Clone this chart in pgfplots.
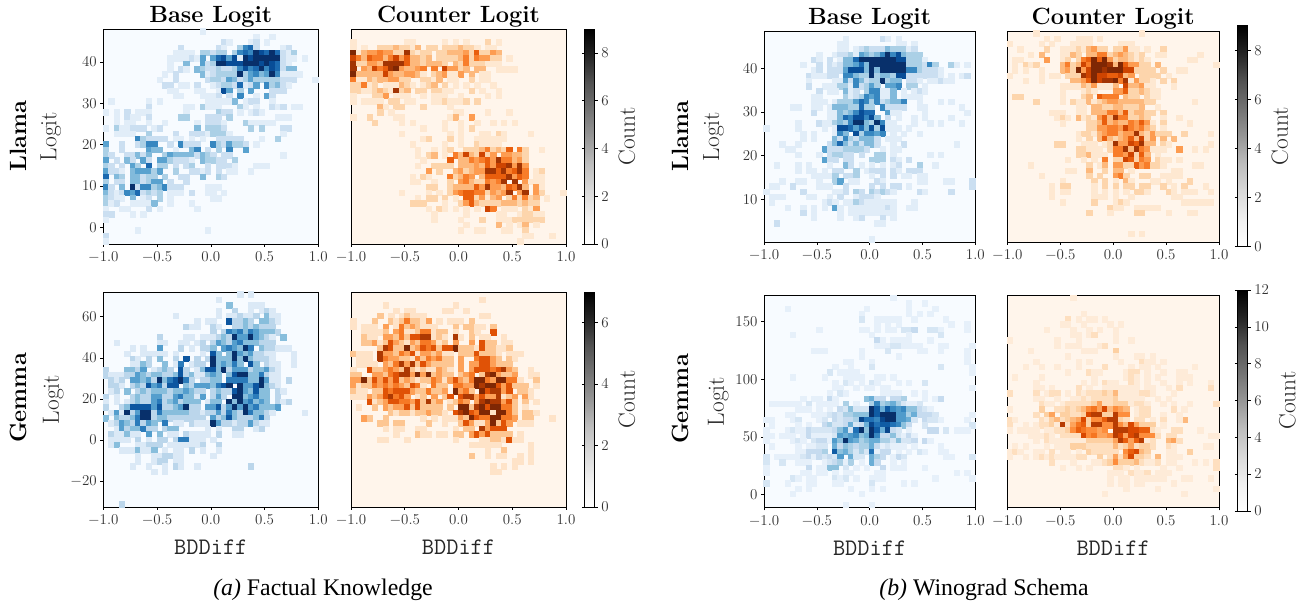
\documentclass[border=0pt]{standalone}
\usepackage{fix-cm}
\usepackage{fontspec}
\usepackage{pgfplots}
\usepackage{pgfplotstable}
\pgfplotsset{compat=1.18}
\newfontfamily\capfont{Liberation Serif}
\definecolor{bluebg}{RGB}{247,251,255}
\definecolor{orangebg}{RGB}{255,245,235}

\pgfplotsset{
  colormap={blues}{rgb255=(247,251,255) rgb255=(222,235,247) rgb255=(198,219,239) rgb255=(158,202,225) rgb255=(107,174,214) rgb255=(66,146,198) rgb255=(33,113,181) rgb255=(8,81,156) rgb255=(8,48,107)},
  colormap={oranges}{rgb255=(255,245,235) rgb255=(254,230,206) rgb255=(253,208,162) rgb255=(253,174,107) rgb255=(253,141,60) rgb255=(241,105,19) rgb255=(217,72,1) rgb255=(166,54,3) rgb255=(127,39,4)},
  colormap={greys}{rgb255=(255,255,255) rgb255=(240,240,240) rgb255=(217,217,217) rgb255=(189,189,189) rgb255=(150,150,150) rgb255=(115,115,115) rgb255=(82,82,82) rgb255=(37,37,37) rgb255=(0,0,0)},
  panel/.style={
    scale only axis, anchor=south west, axis on top,
    xmin=-1, xmax=1, xtick={-1,-0.5,0,0.5,1},
    xticklabel style={/pgf/number format/fixed, /pgf/number format/fixed zerofill, /pgf/number format/precision=1, yshift=-1.5pt},
    tick label style={font=\fontsize{15}{17}\selectfont, text=black!80},
    ylabel style={font=\fontsize{23.4}{25}\selectfont, text=black!85},
    xlabel style={font=\fontsize{23.7}{25}\selectfont\ttfamily, text=black!85, yshift=-7.5pt},
    title style={font=\fontsize{23.5}{25}\selectfont\bfseries, yshift=-8pt},
    tick align=outside, major tick length=3pt, tick style={black, line width=0.6pt},
    xtick pos=bottom, ytick pos=left, axis line style={line width=0.8pt},
    point meta=explicit, point meta min=0,
  },
  bp/.style={panel, colormap name=blues, axis background/.style={fill=bluebg}, ylabel={Logit}},
  op/.style={panel, colormap name=oranges, axis background/.style={fill=orangebg}, ytick=\empty},
  hist/.style={scatter, only marks, mark=square*, mark size=2.7pt, mark options={line width=0pt}, scatter/use mapped color={draw=mapped color, fill=mapped color}},
  cbar/.style={
    hide axis, scale only axis, anchor=south west, width=0pt, height=0pt,
    colormap name=greys, point meta min=0,
    colorbar,
    colorbar style={at={(parent axis.south west)}, anchor=south west, width=10pt, ylabel={Count},
      ytick distance=2, tick label style={font=\fontsize{15}{17}\selectfont, text=black!80},
      ylabel style={font=\fontsize{23.4}{25}\selectfont, text=black!85, yshift=-3pt},
      tick align=outside, major tick length=3pt, tick style={black, line width=0.6pt}, axis line style={line width=0.8pt}, #1},
  },
}
% cells: column, row from the top, count (40 x 40 bins)
\newcommand\bins[3]{\addplot[hist] table[x expr=-0.975+0.05*\thisrowno{0}, y expr=#2-#3*(\thisrowno{1}+0.5), meta index=2] {#1};}

\pgfplotstableread{
18 0 1
28 1 1
31 1 1
22 2 2
23 2 1
27 2 1
28 2 2
30 2 1
14 3 2
21 3 2
22 3 1
25 3 3
26 3 6
27 3 7
28 3 2
33 3 1
34 3 2
13 4 1
14 4 1
15 4 1
16 4 1
18 4 3
19 4 3
20 4 2
21 4 3
22 4 3
24 4 3
25 4 6
26 4 7
27 4 6
28 4 9
29 4 8
30 4 7
31 4 9
32 4 7
33 4 2
34 4 1
35 4 3
12 5 1
13 5 1
14 5 1
15 5 1
16 5 2
17 5 1
18 5 5
20 5 5
21 5 7
22 5 8
23 5 5
24 5 8
25 5 1
26 5 9
27 5 8
28 5 9
29 5 9
30 5 9
31 5 9
32 5 9
33 5 2
34 5 1
35 5 1
37 5 1
12 6 1
15 6 4
18 6 5
19 6 2
20 6 3
21 6 9
22 6 9
23 6 8
24 6 8
25 6 8
26 6 9
27 6 9
28 6 9
29 6 8
30 6 9
31 6 8
32 6 7
33 6 2
34 6 1
12 7 1
14 7 2
15 7 1
17 7 4
18 7 3
19 7 2
20 7 2
21 7 3
22 7 2
23 7 2
24 7 3
25 7 6
26 7 8
27 7 6
28 7 7
29 7 9
30 7 6
31 7 8
32 7 7
33 7 2
34 7 4
35 7 4
11 8 1
13 8 2
18 8 4
19 8 1
20 8 2
21 8 3
22 8 3
23 8 3
24 8 3
25 8 9
26 8 3
27 8 5
28 8 6
29 8 4
30 8 5
31 8 9
32 8 6
33 8 1
34 8 1
35 8 1
36 8 1
10 9 1
13 9 2
19 9 2
20 9 3
21 9 3
22 9 2
23 9 5
24 9 4
25 9 2
26 9 3
27 9 5
28 9 3
29 9 3
30 9 3
31 9 3
32 9 3
33 9 2
34 9 2
35 9 2
39 9 1
11 10 2
12 10 2
14 10 1
15 10 1
17 10 2
20 10 1
21 10 2
22 10 3
23 10 3
24 10 2
25 10 7
26 10 1
27 10 2
28 10 5
30 10 6
31 10 3
32 10 4
33 10 2
34 10 1
12 11 1
13 11 1
17 11 1
18 11 1
21 11 1
22 11 8
23 11 5
25 11 3
27 11 5
31 11 2
32 11 2
33 11 2
13 12 1
14 12 1
18 12 1
19 12 1
20 12 1
21 12 2
23 12 2
25 12 6
28 12 1
30 12 5
31 12 2
1 13 1
8 13 1
10 13 1
19 13 1
20 13 1
21 13 1
22 13 1
23 13 1
24 13 4
26 13 1
27 13 2
28 13 2
31 13 1
8 14 2
15 14 1
16 14 1
18 14 3
19 14 1
20 14 1
21 14 1
25 14 3
26 14 1
28 14 1
31 14 2
32 14 1
33 14 2
35 14 1
36 14 1
0 15 1
2 15 1
4 15 2
6 15 1
7 15 1
8 15 1
15 15 1
21 15 3
22 15 2
23 15 2
25 15 1
27 15 1
28 15 2
29 15 1
2 16 1
4 16 2
5 16 1
6 16 1
8 16 2
14 16 3
15 16 3
19 16 2
20 16 2
21 16 2
23 16 3
32 16 1
33 16 1
34 16 1
2 17 1
4 17 1
5 17 1
8 17 1
11 17 1
17 17 1
19 17 2
20 17 2
21 17 2
22 17 1
26 17 3
27 17 1
28 17 1
29 17 1
30 17 1
31 17 1
0 18 1
2 18 3
3 18 1
4 18 1
5 18 2
6 18 2
7 18 2
9 18 1
10 18 2
17 18 4
19 18 3
20 18 3
21 18 3
22 18 2
27 18 3
29 18 3
33 18 2
34 18 2
2 19 1
3 19 1
4 19 1
5 19 1
8 19 3
13 19 2
16 19 2
17 19 2
18 19 2
19 19 1
20 19 3
21 19 3
22 19 3
23 19 1
33 19 1
6 20 6
7 20 3
8 20 2
9 20 2
10 20 2
11 20 2
13 20 1
14 20 1
16 20 1
18 20 1
21 20 2
22 20 2
23 20 2
24 20 2
25 20 2
29 20 1
32 20 3
0 21 5
3 21 2
6 21 2
7 21 3
8 21 6
9 21 6
12 21 2
14 21 6
15 21 2
16 21 2
17 21 2
20 21 6
21 21 3
22 21 2
23 21 5
24 21 3
25 21 3
26 21 2
28 21 1
0 22 3
3 22 2
8 22 5
9 22 4
10 22 4
13 22 1
16 22 4
17 22 6
19 22 2
21 22 3
23 22 6
26 22 5
0 23 3
1 23 2
4 23 2
5 23 2
6 23 4
7 23 2
8 23 4
11 23 3
12 23 5
13 23 4
14 23 4
15 23 4
16 23 4
17 23 2
18 23 4
19 23 3
20 23 2
22 23 2
23 23 2
33 23 1
0 24 5
2 24 2
4 24 4
5 24 2
7 24 5
8 24 2
10 24 5
11 24 5
12 24 3
13 24 2
14 24 2
15 24 2
16 24 1
18 24 4
19 24 3
20 24 3
21 24 2
22 24 2
24 24 3
0 25 3
1 25 2
3 25 2
5 25 5
6 25 3
8 25 7
10 25 3
11 25 3
13 25 2
15 25 2
16 25 3
19 25 2
21 25 2
22 25 2
23 25 2
24 25 1
28 25 1
29 25 1
30 25 1
0 26 5
1 26 2
2 26 2
3 26 1
5 26 4
6 26 5
7 26 5
8 26 5
9 26 3
10 26 5
13 26 3
16 26 2
17 26 2
18 26 1
19 26 2
21 26 2
23 26 1
24 26 1
27 26 1
0 27 7
2 27 4
3 27 3
5 27 4
6 27 4
7 27 2
8 27 3
9 27 3
11 27 3
14 27 2
15 27 2
18 27 4
21 27 3
22 27 2
0 28 3
2 28 2
3 28 2
5 28 4
6 28 4
7 28 2
8 28 3
9 28 5
10 28 5
12 28 2
15 28 2
0 29 6
1 29 2
3 29 4
5 29 9
6 29 2
7 29 6
8 29 6
9 29 3
10 29 4
11 29 6
12 29 2
13 29 2
14 29 2
19 29 1
20 29 1
21 29 1
0 30 4
1 30 2
2 30 1
3 30 2
4 30 6
5 30 5
6 30 7
7 30 2
8 30 3
9 30 2
10 30 3
12 30 1
13 30 1
14 30 1
16 30 2
19 30 1
20 30 1
22 30 1
0 31 3
1 31 2
2 31 1
3 31 1
5 31 4
7 31 1
8 31 2
10 31 3
12 31 1
20 31 1
21 31 1
0 32 3
1 32 1
2 32 2
5 32 1
6 32 1
7 32 1
8 32 1
9 32 4
12 32 1
16 32 1
0 33 1
3 33 1
4 33 1
8 33 2
10 33 1
17 33 1
0 34 2
1 34 2
5 34 1
7 34 1
0 35 1
6 37 1
19 37 1
0 38 2
0 39 1
}\tabLlamaFactBase

\pgfplotstableread{
0 2 1
10 2 1
11 2 1
17 2 1
19 2 1
21 2 1
25 2 2
27 2 1
0 3 1
2 3 1
5 3 2
6 3 2
7 3 2
8 3 3
9 3 2
10 3 2
11 3 1
12 3 3
14 3 2
15 3 2
17 3 2
18 3 2
19 3 2
20 3 3
21 3 2
22 3 2
23 3 1
25 3 1
26 3 1
0 4 9
1 4 1
2 4 3
3 4 4
4 4 4
5 4 5
6 4 4
7 4 4
8 4 2
9 4 2
10 4 8
11 4 2
12 4 1
13 4 2
14 4 2
16 4 2
17 4 2
18 4 3
19 4 3
20 4 3
21 4 4
22 4 2
23 4 6
24 4 2
25 4 2
26 4 4
27 4 3
0 5 7
1 5 5
2 5 3
3 5 6
4 5 5
5 5 5
6 5 3
7 5 5
8 5 7
9 5 4
10 5 6
11 5 3
12 5 3
13 5 2
14 5 3
16 5 2
17 5 2
18 5 2
19 5 2
20 5 3
21 5 5
22 5 2
23 5 5
24 5 4
25 5 4
26 5 2
27 5 2
29 5 1
0 6 8
1 6 2
2 6 2
3 6 4
4 6 4
5 6 3
6 6 8
7 6 8
8 6 8
9 6 8
10 6 6
11 6 3
12 6 3
13 6 2
14 6 3
15 6 3
16 6 3
17 6 2
19 6 3
20 6 2
21 6 5
22 6 2
23 6 2
24 6 2
25 6 1
26 6 1
27 6 1
0 7 8
2 7 4
3 7 3
4 7 7
5 7 5
6 7 6
7 7 8
8 7 9
9 7 4
10 7 3
11 7 3
12 7 4
13 7 5
15 7 5
17 7 7
18 7 4
19 7 4
20 7 2
21 7 3
23 7 3
24 7 3
27 7 1
28 7 1
29 7 1
30 7 1
0 8 9
1 8 3
2 8 3
3 8 3
4 8 3
5 8 3
6 8 7
7 8 4
8 8 3
9 8 3
10 8 4
11 8 4
12 8 3
13 8 1
15 8 2
16 8 3
17 8 4
18 8 1
19 8 1
20 8 4
22 8 3
24 8 1
25 8 1
0 9 5
1 9 1
2 9 1
3 9 3
4 9 2
5 9 3
6 9 3
7 9 4
8 9 4
9 9 2
10 9 2
13 9 2
14 9 2
15 9 1
16 9 3
18 9 1
19 9 1
22 9 2
24 9 1
25 9 1
0 10 2
1 10 2
2 10 5
3 10 1
4 10 2
6 10 1
7 10 1
8 10 1
9 10 3
10 10 2
11 10 1
13 10 1
14 10 2
15 10 3
17 10 2
19 10 1
21 10 1
23 10 1
26 10 1
0 11 2
1 11 2
2 11 1
3 11 1
4 11 2
5 11 3
6 11 2
7 11 1
8 11 8
9 11 2
10 11 3
12 11 2
13 11 2
15 11 2
16 11 2
17 11 1
18 11 1
22 11 2
24 11 1
27 11 1
0 12 1
4 12 2
5 12 2
6 12 4
8 12 1
9 12 1
10 12 1
13 12 1
15 12 1
16 12 1
17 12 1
20 12 1
25 12 1
27 12 1
0 13 1
2 13 1
3 13 1
4 13 1
5 13 1
7 13 2
8 13 2
10 13 1
11 13 1
15 13 1
16 13 1
17 13 2
18 13 1
19 13 1
20 13 1
21 13 2
23 13 2
5 14 3
6 14 1
8 14 2
9 14 2
13 14 2
18 14 1
5 15 2
7 15 1
19 15 1
20 15 1
25 15 1
29 15 1
0 16 1
3 16 2
8 16 1
9 16 1
18 16 1
19 16 3
22 16 4
4 17 2
9 17 1
11 17 1
17 17 1
20 17 1
23 17 1
26 17 1
28 17 1
30 17 1
13 18 1
17 18 1
20 18 1
22 18 2
9 19 1
18 19 1
20 19 1
24 19 1
25 19 1
27 19 2
28 19 1
33 19 1
13 20 1
14 20 2
18 20 2
20 20 1
23 20 1
24 20 1
25 20 1
26 20 1
27 20 1
28 20 1
11 21 1
17 21 1
20 21 1
23 21 2
24 21 1
25 21 1
26 21 1
27 21 1
12 22 1
15 22 1
17 22 1
18 22 2
21 22 2
22 22 2
23 22 2
24 22 3
25 22 5
26 22 2
27 22 3
28 22 2
29 22 6
31 22 5
32 22 2
35 22 1
12 23 1
14 23 2
15 23 3
17 23 1
19 23 5
20 23 3
21 23 7
22 23 3
23 23 2
24 23 7
25 23 2
26 23 4
28 23 4
29 23 4
30 23 3
31 23 3
32 23 2
13 24 1
18 24 6
20 24 3
21 24 3
22 24 5
23 24 4
24 24 5
25 24 6
26 24 4
27 24 8
28 24 5
29 24 5
30 24 3
31 24 4
32 24 2
12 25 1
15 25 2
16 25 2
17 25 2
18 25 2
20 25 3
21 25 3
22 25 3
23 25 4
24 25 3
25 25 6
26 25 4
27 25 7
28 25 7
29 25 8
30 25 4
31 25 8
32 25 4
14 26 4
16 26 2
19 26 3
20 26 4
21 26 2
22 26 3
23 26 4
24 26 4
25 26 8
26 26 8
27 26 6
28 26 8
29 26 5
30 26 6
31 26 8
32 26 5
34 26 1
35 26 2
11 27 1
13 27 2
14 27 1
18 27 5
19 27 2
20 27 3
21 27 5
22 27 4
24 27 3
25 27 6
26 27 6
27 27 6
28 27 6
29 27 8
30 27 4
31 27 6
32 27 5
34 27 1
35 27 1
11 28 1
12 28 1
15 28 1
18 28 2
20 28 4
21 28 5
22 28 3
23 28 2
24 28 2
25 28 5
26 28 4
27 28 5
28 28 8
30 28 8
32 28 4
33 28 1
34 28 1
35 28 1
14 29 2
15 29 2
18 29 2
19 29 3
20 29 3
21 29 3
22 29 3
23 29 6
24 29 4
25 29 8
26 29 4
27 29 4
28 29 3
29 29 6
30 29 5
31 29 8
32 29 3
34 29 4
35 29 1
9 30 1
14 30 1
16 30 1
18 30 2
19 30 4
20 30 5
21 30 6
22 30 6
23 30 5
24 30 5
25 30 2
26 30 4
27 30 3
28 30 4
29 30 8
31 30 4
32 30 8
34 30 4
35 30 2
39 30 1
12 31 1
14 31 2
15 31 2
17 31 2
19 31 1
21 31 6
22 31 6
23 31 2
24 31 4
25 31 1
26 31 3
27 31 4
29 31 2
30 31 5
31 31 2
32 31 5
33 31 2
34 31 3
36 31 1
11 32 2
12 32 2
13 32 2
17 32 1
20 32 2
21 32 4
22 32 6
23 32 3
24 32 2
25 32 2
26 32 2
27 32 2
28 32 3
29 32 3
30 32 3
31 32 2
32 32 3
33 32 2
34 32 2
14 33 1
16 33 2
17 33 1
19 33 1
21 33 1
23 33 1
25 33 7
26 33 5
28 33 1
29 33 1
30 33 1
32 33 2
33 33 1
34 33 4
15 34 1
21 34 1
27 34 1
28 34 1
31 34 1
32 34 2
33 34 2
34 34 1
35 34 1
15 35 1
20 35 1
24 35 2
27 35 1
28 35 1
29 35 1
30 35 2
31 35 2
32 35 2
33 35 2
34 35 2
35 35 2
21 36 1
27 36 3
29 36 1
31 36 1
32 36 3
34 36 1
20 37 1
23 37 1
24 37 1
28 37 1
29 37 1
32 37 2
32 38 1
33 38 1
37 38 1
31 39 1
}\tabLlamaFactCounter

\pgfplotstableread{
15 1 1
22 1 2
23 1 1
25 1 1
14 2 1
15 2 1
25 2 1
26 2 1
28 2 1
14 3 1
15 3 1
17 3 1
18 3 2
19 3 3
20 3 2
21 3 2
22 3 2
23 3 4
24 3 3
25 3 3
26 3 3
27 3 1
28 3 2
10 4 1
13 4 1
14 4 2
15 4 2
16 4 3
17 4 1
18 4 5
19 4 4
20 4 3
21 4 4
22 4 6
23 4 9
24 4 6
25 4 8
26 4 4
27 4 3
28 4 3
29 4 3
9 5 2
10 5 1
12 5 2
14 5 1
15 5 4
16 5 4
17 5 7
18 5 9
19 5 9
20 5 9
21 5 9
22 5 9
23 5 9
24 5 9
25 5 8
26 5 8
27 5 3
28 5 3
29 5 3
30 5 1
7 6 1
10 6 2
12 6 2
13 6 1
14 6 2
15 6 4
16 6 4
17 6 5
18 6 7
19 6 4
20 6 9
21 6 9
22 6 9
23 6 9
24 6 9
25 6 9
26 6 9
27 6 3
28 6 3
29 6 3
30 6 2
31 6 6
32 6 3
35 6 3
36 6 1
38 6 1
9 7 1
10 7 2
12 7 2
13 7 2
14 7 2
15 7 5
16 7 8
17 7 8
18 7 8
19 7 4
20 7 9
21 7 4
22 7 9
23 7 9
24 7 9
25 7 9
26 7 9
27 7 6
28 7 6
29 7 3
30 7 2
31 7 2
32 7 2
33 7 1
8 8 2
9 8 1
10 8 1
11 8 1
12 8 2
13 8 2
15 8 6
16 8 6
17 8 4
18 8 3
19 8 3
20 8 9
21 8 3
22 8 4
23 8 4
24 8 3
25 8 8
26 8 8
27 8 2
28 8 2
29 8 2
30 8 2
31 8 2
32 8 2
33 8 1
35 8 1
37 8 1
38 8 2
8 9 1
13 9 1
14 9 1
15 9 5
16 9 2
17 9 6
18 9 4
19 9 2
20 9 3
21 9 3
22 9 9
23 9 3
24 9 4
25 9 4
27 9 2
28 9 2
29 9 1
31 9 1
32 9 1
33 9 2
34 9 1
35 9 1
8 10 2
11 10 1
12 10 1
13 10 1
14 10 3
15 10 3
16 10 1
17 10 6
18 10 2
19 10 3
20 10 5
21 10 3
23 10 5
24 10 5
25 10 6
27 10 3
28 10 3
30 10 1
10 11 2
12 11 1
13 11 1
15 11 4
16 11 1
17 11 2
19 11 3
20 11 6
21 11 6
22 11 1
23 11 1
24 11 4
26 11 1
28 11 1
29 11 2
30 11 1
9 12 1
10 12 1
15 12 3
16 12 1
17 12 2
18 12 3
19 12 6
20 12 5
21 12 6
22 12 1
23 12 1
24 12 4
26 12 1
27 12 1
28 12 1
29 12 1
9 13 1
10 13 1
11 13 1
13 13 1
14 13 3
15 13 3
16 13 3
17 13 5
18 13 7
19 13 6
20 13 3
21 13 6
22 13 2
23 13 3
24 13 4
25 13 4
26 13 6
29 13 1
33 13 1
35 13 1
5 14 1
6 14 1
9 14 1
10 14 1
12 14 1
13 14 4
14 14 4
15 14 4
16 14 3
17 14 3
18 14 7
19 14 3
20 14 3
22 14 6
23 14 2
24 14 2
25 14 2
26 14 2
29 14 1
30 14 1
37 14 1
9 15 2
12 15 1
13 15 1
14 15 4
15 15 3
16 15 4
17 15 6
18 15 8
19 15 7
20 15 7
23 15 5
24 15 1
25 15 1
30 15 1
38 15 1
12 16 1
13 16 1
14 16 4
15 16 7
16 16 6
17 16 8
18 16 8
19 16 6
20 16 8
21 16 4
23 16 2
25 16 1
28 16 1
30 16 1
35 16 1
6 17 1
10 17 2
11 17 1
12 17 1
13 17 3
14 17 4
15 17 3
16 17 6
17 17 9
18 17 9
19 17 4
20 17 3
21 17 9
22 17 6
23 17 1
24 17 1
28 17 1
31 17 1
33 17 1
37 17 1
0 18 1
6 18 1
11 18 1
13 18 1
14 18 8
15 18 8
16 18 7
17 18 5
18 18 7
19 18 4
20 18 8
21 18 3
22 18 8
23 18 1
24 18 1
25 18 1
27 18 1
7 19 1
9 19 1
13 19 1
14 19 6
15 19 4
17 19 8
18 19 3
19 19 6
20 19 6
21 19 5
22 19 6
24 19 1
26 19 1
29 19 1
7 20 1
9 20 1
13 20 4
14 20 2
15 20 6
16 20 3
17 20 2
18 20 4
19 20 4
20 20 4
21 20 2
23 20 1
24 20 1
25 20 1
3 21 1
6 21 1
12 21 2
13 21 4
14 21 7
15 21 4
16 21 2
17 21 4
18 21 2
19 21 4
20 21 4
21 21 2
24 21 1
26 21 2
36 21 1
4 22 1
5 22 1
11 22 5
12 22 2
13 22 2
14 22 2
15 22 3
16 22 3
17 22 3
18 22 3
19 22 2
22 22 1
24 22 1
25 22 1
6 23 1
10 23 1
12 23 2
13 23 3
14 23 3
15 23 2
16 23 2
18 23 2
21 23 3
22 23 3
24 23 1
31 23 1
33 23 1
11 24 5
12 24 2
13 24 2
15 24 2
16 24 2
20 24 3
21 24 3
22 24 3
24 24 2
25 24 1
27 24 2
2 25 1
6 25 1
8 25 1
12 25 1
15 25 4
16 25 2
18 25 1
20 25 1
22 25 1
24 25 1
25 25 2
29 25 3
32 25 1
6 26 1
8 26 1
9 26 1
11 26 1
13 26 2
14 26 2
17 26 3
19 26 1
20 26 2
21 26 2
22 26 2
24 26 2
25 26 1
27 26 2
28 26 2
29 26 2
9 27 1
10 27 1
11 27 1
12 27 1
13 27 3
15 27 2
16 27 2
17 27 3
20 27 1
22 27 2
24 27 2
26 27 1
27 27 1
29 27 1
30 27 1
3 28 1
6 28 1
7 28 1
10 28 1
13 28 3
14 28 5
16 28 1
17 28 1
21 28 2
22 28 1
29 28 1
30 28 1
34 28 1
35 28 1
39 28 2
1 29 1
2 29 1
5 29 2
10 29 1
11 29 1
12 29 1
15 29 2
20 29 2
22 29 2
24 29 2
25 29 2
27 29 1
39 29 2
0 30 1
7 30 2
13 30 1
14 30 1
15 30 2
17 30 3
18 30 2
20 30 3
21 30 2
22 30 3
23 30 2
24 30 1
29 30 2
30 30 1
35 30 2
1 31 1
2 31 1
3 31 1
8 31 1
9 31 1
12 31 1
14 31 2
17 31 1
18 31 2
19 31 2
20 31 2
21 31 1
1 32 1
11 32 1
12 32 2
13 32 1
15 32 1
16 32 1
17 32 3
18 32 2
19 32 1
20 32 1
21 32 1
22 32 1
23 32 1
24 32 1
28 32 1
4 33 1
7 33 1
9 33 1
11 33 1
13 33 5
14 33 1
16 33 1
17 33 1
18 33 1
19 33 1
20 33 1
21 33 1
22 33 1
23 33 2
24 33 1
27 33 1
28 33 1
7 34 2
9 34 1
14 34 1
16 34 1
17 34 1
18 34 1
19 34 1
20 34 1
21 34 1
22 34 1
23 34 1
24 34 1
9 35 1
14 35 1
17 35 1
18 35 2
22 35 2
24 35 1
2 36 2
21 36 1
22 36 1
20 39 1
}\tabLlamaWinoBase

\pgfplotstableread{
5 0 1
25 0 1
7 1 1
9 1 1
13 1 1
14 1 1
15 1 1
17 1 1
0 2 1
6 2 1
8 2 1
12 2 1
13 2 1
14 2 1
15 2 1
21 2 1
22 2 1
23 2 1
2 3 1
7 3 2
10 3 1
11 3 1
12 3 1
13 3 2
14 3 1
15 3 3
16 3 4
17 3 2
18 3 2
20 3 2
21 3 2
22 3 4
23 3 1
24 3 1
26 3 1
29 3 2
4 4 1
6 4 3
10 4 1
11 4 1
12 4 3
13 4 2
15 4 3
16 4 3
17 4 5
18 4 5
19 4 2
20 4 3
21 4 4
22 4 3
23 4 2
24 4 1
25 4 2
28 4 1
29 4 1
36 4 1
1 5 1
2 5 1
7 5 4
10 5 1
11 5 2
13 5 2
14 5 5
15 5 6
16 5 9
17 5 6
18 5 9
19 5 4
20 5 2
21 5 3
22 5 3
23 5 2
24 5 1
25 5 2
26 5 1
34 5 1
35 5 1
1 6 1
3 6 2
4 6 1
5 6 2
10 6 3
11 6 5
12 6 2
13 6 3
14 6 7
15 6 5
16 6 9
17 6 9
18 6 9
19 6 8
20 6 3
21 6 9
22 6 6
23 6 4
24 6 4
25 6 2
26 6 2
28 6 3
39 6 1
1 7 1
3 7 1
6 7 1
10 7 3
11 7 4
12 7 2
13 7 9
14 7 4
15 7 7
16 7 9
17 7 9
18 7 8
19 7 9
20 7 9
21 7 9
22 7 7
23 7 7
24 7 2
25 7 2
26 7 2
27 7 2
29 7 2
32 7 1
33 7 1
0 8 1
6 8 1
8 8 1
9 8 1
11 8 2
12 8 2
13 8 2
14 8 8
15 8 7
16 8 9
17 8 7
18 8 7
19 8 6
20 8 6
21 8 7
22 8 3
23 8 4
25 8 2
26 8 2
27 8 2
28 8 2
30 8 1
3 9 1
6 9 1
12 9 3
13 9 3
14 9 4
15 9 6
16 9 9
17 9 7
18 9 8
19 9 8
20 9 9
21 9 5
22 9 8
23 9 1
24 9 4
25 9 2
26 9 2
27 9 1
29 9 2
31 9 2
10 10 1
11 10 1
12 10 1
13 10 1
14 10 3
15 10 2
16 10 4
17 10 1
18 10 1
19 10 1
20 10 3
22 10 7
23 10 3
24 10 3
25 10 4
26 10 1
27 10 1
31 10 1
10 11 1
14 11 1
15 11 2
16 11 1
20 11 4
21 11 4
22 11 6
23 11 2
24 11 2
25 11 3
26 11 2
27 11 1
28 11 1
1 12 2
2 12 2
10 12 1
14 12 2
15 12 3
17 12 6
18 12 5
19 12 5
20 12 5
22 12 3
23 12 2
24 12 2
26 12 2
27 12 1
28 12 1
5 13 2
10 13 1
12 13 2
13 13 1
14 13 1
15 13 3
16 13 1
17 13 2
18 13 3
19 13 4
20 13 4
21 13 3
22 13 3
23 13 3
24 13 3
25 13 3
26 13 2
27 13 2
35 13 1
13 14 1
14 14 1
16 14 3
17 14 3
18 14 2
19 14 2
20 14 3
21 14 3
22 14 2
23 14 2
24 14 2
25 14 3
28 14 1
8 15 1
9 15 1
10 15 1
13 15 1
14 15 1
16 15 3
17 15 3
18 15 3
19 15 5
20 15 5
21 15 3
22 15 6
23 15 2
24 15 3
25 15 3
26 15 2
27 15 2
29 15 2
9 16 1
10 16 2
11 16 1
13 16 3
14 16 1
15 16 2
16 16 1
17 16 4
18 16 6
19 16 3
20 16 8
21 16 5
22 16 5
23 16 2
24 16 2
25 16 3
26 16 2
29 16 1
32 16 1
10 17 1
15 17 2
16 17 2
17 17 3
18 17 6
19 17 3
20 17 4
21 17 3
22 17 3
23 17 5
24 17 4
25 17 6
26 17 4
27 17 1
29 17 2
34 17 1
15 18 2
16 18 2
17 18 4
18 18 4
19 18 5
20 18 5
21 18 4
22 18 7
23 18 5
24 18 4
25 18 5
26 18 3
27 18 2
29 18 1
13 19 1
14 19 2
15 19 2
16 19 1
17 19 3
18 19 4
19 19 5
20 19 5
21 19 3
22 19 4
23 19 4
24 19 8
25 19 3
26 19 2
27 19 4
28 19 2
29 19 2
30 19 2
33 19 2
38 19 1
13 20 1
15 20 2
17 20 3
18 20 6
19 20 3
20 20 2
21 20 3
22 20 4
23 20 6
24 20 3
25 20 7
26 20 2
27 20 4
29 20 3
31 20 3
9 21 2
10 21 2
14 21 1
15 21 1
16 21 1
18 21 1
19 21 2
20 21 8
21 21 4
22 21 4
23 21 7
24 21 6
25 21 8
26 21 3
27 21 3
29 21 2
30 21 1
38 21 1
13 22 2
14 22 2
15 22 1
16 22 1
17 22 1
19 22 2
20 22 5
21 22 5
22 22 8
23 22 3
24 22 8
25 22 5
26 22 4
27 22 1
28 22 1
29 22 1
32 22 4
35 22 1
37 22 1
13 23 2
14 23 2
15 23 3
16 23 1
17 23 1
18 23 1
20 23 5
21 23 5
22 23 4
23 23 7
24 23 2
25 23 6
26 23 3
28 23 1
11 24 1
14 24 1
16 24 1
18 24 5
20 24 2
21 24 2
22 24 7
23 24 6
24 24 2
25 24 5
26 24 4
28 24 2
29 24 1
30 24 1
32 24 1
4 25 1
15 25 2
17 25 1
18 25 3
20 25 4
21 25 4
22 25 2
23 25 2
24 25 6
25 25 4
26 25 5
27 25 2
28 25 2
29 25 1
35 25 1
36 25 1
11 26 1
12 26 1
15 26 3
18 26 2
20 26 3
21 26 3
23 26 1
31 26 1
32 26 1
6 27 1
15 27 2
17 27 2
20 27 4
21 27 5
22 27 2
25 27 2
26 27 2
29 27 1
30 27 1
31 27 1
32 27 1
10 28 1
16 28 2
18 28 2
20 28 1
22 28 3
23 28 1
27 28 1
28 28 1
30 28 1
34 28 2
8 29 1
10 29 2
11 29 2
16 29 1
18 29 2
20 29 2
22 29 2
23 29 2
25 29 2
26 29 2
29 29 2
31 29 1
33 29 2
37 29 1
8 30 1
10 30 1
11 30 1
16 30 1
18 30 1
20 30 1
22 30 1
24 30 2
25 30 2
26 30 1
30 30 2
31 30 1
33 30 1
34 30 1
35 30 1
38 30 1
8 31 1
16 31 1
17 31 1
18 31 1
20 31 1
23 31 1
31 31 1
32 31 1
10 32 1
16 32 2
20 32 1
21 32 2
22 32 1
33 32 1
34 32 1
35 32 1
36 32 1
37 32 1
38 32 1
19 33 2
20 33 1
21 33 1
24 33 1
25 33 1
26 33 1
27 33 1
28 33 1
15 34 2
19 34 1
24 34 2
25 34 2
30 34 1
34 34 1
35 34 1
23 38 1
25 38 1
}\tabLlamaWinoCounter

\pgfplotstableread{
25 0 1
27 0 1
21 1 1
23 2 3
27 2 1
28 2 1
29 2 1
21 3 1
24 3 2
27 3 1
29 3 1
30 3 2
31 3 1
13 4 1
21 4 1
23 4 1
24 4 1
25 4 2
26 4 1
27 4 1
28 4 2
30 4 3
31 4 1
32 4 1
17 5 1
19 5 1
20 5 1
23 5 6
24 5 2
25 5 2
26 5 3
27 5 2
29 5 3
30 5 3
31 5 2
32 5 1
15 6 2
16 6 1
17 6 1
20 6 2
21 6 1
24 6 2
25 6 2
26 6 3
27 6 2
28 6 3
29 6 2
30 6 2
31 6 2
20 7 2
22 7 2
23 7 5
24 7 4
25 7 5
26 7 3
27 7 5
28 7 4
29 7 3
30 7 3
31 7 3
32 7 2
10 8 2
15 8 1
16 8 1
18 8 1
19 8 1
20 8 1
21 8 2
22 8 3
23 8 2
24 8 7
25 8 4
26 8 4
27 8 7
28 8 4
29 8 3
30 8 2
31 8 1
33 8 3
2 9 1
10 9 1
11 9 1
14 9 1
15 9 1
17 9 1
18 9 2
20 9 2
21 9 4
22 9 3
23 9 2
24 9 4
25 9 5
26 9 3
27 9 3
28 9 3
29 9 2
30 9 2
31 9 2
5 10 1
7 10 1
10 10 4
14 10 2
16 10 1
18 10 2
19 10 2
20 10 3
22 10 4
23 10 5
24 10 4
25 10 3
26 10 7
27 10 5
29 10 3
30 10 2
31 10 2
32 10 1
33 10 1
34 10 1
4 11 1
7 11 1
8 11 1
9 11 1
10 11 1
11 11 1
13 11 1
18 11 1
20 11 6
21 11 3
23 11 3
24 11 7
25 11 4
26 11 3
27 11 4
28 11 2
29 11 2
30 11 1
31 11 1
35 11 1
5 12 2
6 12 1
8 12 2
10 12 3
13 12 2
15 12 6
17 12 2
19 12 2
20 12 7
21 12 3
22 12 3
23 12 3
24 12 7
25 12 3
26 12 7
27 12 3
28 12 2
29 12 2
30 12 2
31 12 1
35 12 1
5 13 1
6 13 1
7 13 3
8 13 2
11 13 3
13 13 1
14 13 5
16 13 1
17 13 2
18 13 2
20 13 7
21 13 3
22 13 4
23 13 3
24 13 5
25 13 3
27 13 6
28 13 3
30 13 2
31 13 1
32 13 1
35 13 1
0 14 2
4 14 3
5 14 3
6 14 2
7 14 4
9 14 1
10 14 2
11 14 3
12 14 2
14 14 6
15 14 2
17 14 1
18 14 3
19 14 6
20 14 6
21 14 3
22 14 7
23 14 2
24 14 4
25 14 4
26 14 4
27 14 2
28 14 3
29 14 3
30 14 4
31 14 2
32 14 1
0 15 2
1 15 1
2 15 1
3 15 1
4 15 2
5 15 2
6 15 4
7 15 3
8 15 2
9 15 3
10 15 3
11 15 2
12 15 2
13 15 3
14 15 6
15 15 2
16 15 3
17 15 1
18 15 1
19 15 3
20 15 4
21 15 3
23 15 3
24 15 6
25 15 7
26 15 7
27 15 3
28 15 3
29 15 5
30 15 2
31 15 1
32 15 1
1 16 2
2 16 1
3 16 2
5 16 4
6 16 4
7 16 3
8 16 4
9 16 2
10 16 7
11 16 3
12 16 5
13 16 6
14 16 7
15 16 5
16 16 2
18 16 2
19 16 2
20 16 3
21 16 3
23 16 5
24 16 5
25 16 5
26 16 5
27 16 3
28 16 3
29 16 7
30 16 4
31 16 1
32 16 1
34 16 2
1 17 2
2 17 2
3 17 1
5 17 2
6 17 3
7 17 2
8 17 6
9 17 4
10 17 5
11 17 2
12 17 6
13 17 6
15 17 3
16 17 2
17 17 4
18 17 4
19 17 4
20 17 3
21 17 5
22 17 6
23 17 7
25 17 7
26 17 4
27 17 4
28 17 6
29 17 7
30 17 3
31 17 2
32 17 1
1 18 1
2 18 2
4 18 3
6 18 2
7 18 3
8 18 2
9 18 3
10 18 3
11 18 3
12 18 2
13 18 3
14 18 3
15 18 4
16 18 3
17 18 2
18 18 2
20 18 2
21 18 3
22 18 2
23 18 2
24 18 6
25 18 7
26 18 4
27 18 3
28 18 6
29 18 3
30 18 3
32 18 2
33 18 1
0 19 2
2 19 1
5 19 2
6 19 3
7 19 2
8 19 2
9 19 4
10 19 4
11 19 2
12 19 2
13 19 4
14 19 5
15 19 3
16 19 3
17 19 1
18 19 4
20 19 2
21 19 4
22 19 2
24 19 7
25 19 7
26 19 3
27 19 4
28 19 5
29 19 3
30 19 3
32 19 2
0 20 1
2 20 1
4 20 1
5 20 2
6 20 3
7 20 2
8 20 2
9 20 4
10 20 5
11 20 2
12 20 3
13 20 4
14 20 2
15 20 3
16 20 3
17 20 3
19 20 1
20 20 3
21 20 3
23 20 7
24 20 3
25 20 7
26 20 4
27 20 5
28 20 3
29 20 4
30 20 3
32 20 2
33 20 1
34 20 2
0 21 2
3 21 2
4 21 3
5 21 6
6 21 6
7 21 6
8 21 6
9 21 4
10 21 6
11 21 2
12 21 2
13 21 3
14 21 4
15 21 7
16 21 2
17 21 2
19 21 4
20 21 4
21 21 6
22 21 2
23 21 4
24 21 7
25 21 4
26 21 7
27 21 4
28 21 5
29 21 3
30 21 3
31 21 3
32 21 4
1 22 1
2 22 4
3 22 1
4 22 7
5 22 2
6 22 4
7 22 7
8 22 7
9 22 2
10 22 5
11 22 3
12 22 3
13 22 3
14 22 3
15 22 3
16 22 2
17 22 2
18 22 1
19 22 2
20 22 2
21 22 4
22 22 2
23 22 5
24 22 3
25 22 2
26 22 7
27 22 5
28 22 3
29 22 3
30 22 2
31 22 1
37 22 1
0 23 3
2 23 3
3 23 2
4 23 2
5 23 3
6 23 5
7 23 7
8 23 7
9 23 2
10 23 3
11 23 3
12 23 2
13 23 2
14 23 2
15 23 2
16 23 2
17 23 2
18 23 2
20 23 4
21 23 2
22 23 3
23 23 6
24 23 3
25 23 2
26 23 2
27 23 2
28 23 3
29 23 5
30 23 2
1 24 1
2 24 2
3 24 4
4 24 3
5 24 2
6 24 5
7 24 2
8 24 4
9 24 3
11 24 5
13 24 1
14 24 1
16 24 2
17 24 1
18 24 1
19 24 1
20 24 7
21 24 4
22 24 2
23 24 2
24 24 1
25 24 2
26 24 2
27 24 4
28 24 2
29 24 1
30 24 1
2 25 1
3 25 4
4 25 2
5 25 3
6 25 3
7 25 5
8 25 2
9 25 2
11 25 2
12 25 3
13 25 3
19 25 1
21 25 1
24 25 2
25 25 2
28 25 1
29 25 2
1 26 2
2 26 1
3 26 1
4 26 3
5 26 1
6 26 1
8 26 4
10 26 3
12 26 1
13 26 1
15 26 2
16 26 1
17 26 1
18 26 1
19 26 1
21 26 2
24 26 1
25 26 1
1 27 1
2 27 1
3 27 1
4 27 1
6 27 2
8 27 1
10 27 2
11 27 2
13 27 2
14 27 5
15 27 5
16 27 1
17 27 1
18 27 1
20 27 1
1 28 1
2 28 3
6 28 1
7 28 1
8 28 2
9 28 2
10 28 2
12 28 1
13 28 1
14 28 1
15 28 1
16 28 1
17 28 1
18 28 2
21 28 2
3 29 1
4 29 1
5 29 1
6 29 3
7 29 1
8 29 1
9 29 3
11 29 1
13 29 1
14 29 1
16 29 2
18 29 1
21 29 1
6 30 1
9 30 1
10 30 1
11 30 2
12 30 2
13 30 1
14 30 1
20 30 1
6 31 1
9 31 1
10 31 2
11 31 2
13 31 1
14 31 1
5 32 1
8 32 1
11 32 1
13 32 2
14 32 1
17 32 1
27 32 2
9 33 1
11 33 1
3 39 2
}\tabGemmaFactBase

\pgfplotstableread{
24 1 1
6 2 1
19 2 1
8 3 1
10 3 1
11 3 1
17 3 1
18 3 1
21 3 1
5 4 2
7 4 1
9 4 1
10 4 2
11 4 1
12 4 1
13 4 1
24 4 1
25 4 1
0 5 1
4 5 2
7 5 2
8 5 1
9 5 2
10 5 4
11 5 2
12 5 2
13 5 1
14 5 3
16 5 1
18 5 1
19 5 1
20 5 1
22 5 2
0 6 1
2 6 1
3 6 1
4 6 1
6 6 3
8 6 1
9 6 4
10 6 2
11 6 3
12 6 2
13 6 1
14 6 1
15 6 1
19 6 2
21 6 2
22 6 2
23 6 1
24 6 1
26 6 2
2 7 1
3 7 1
4 7 1
5 7 1
6 7 2
8 7 3
9 7 4
10 7 1
11 7 1
12 7 2
13 7 4
14 7 4
15 7 1
16 7 2
17 7 2
19 7 1
22 7 2
23 7 1
26 7 5
2 8 2
3 8 1
4 8 1
6 8 3
7 8 3
8 8 2
9 8 4
10 8 2
11 8 5
12 8 5
13 8 6
14 8 6
15 8 1
16 8 2
17 8 1
19 8 6
20 8 1
22 8 2
24 8 1
25 8 1
28 8 1
2 9 2
3 9 2
4 9 3
5 9 1
6 9 2
7 9 5
8 9 3
9 9 2
10 9 1
11 9 3
12 9 2
13 9 4
14 9 4
15 9 3
16 9 1
17 9 2
19 9 3
22 9 3
24 9 5
25 9 2
26 9 2
28 9 1
29 9 1
5 10 2
6 10 6
7 10 5
8 10 2
9 10 2
10 10 7
11 10 2
12 10 3
13 10 5
14 10 4
15 10 5
16 10 2
17 10 5
18 10 5
19 10 7
20 10 2
21 10 2
22 10 2
23 10 1
24 10 5
25 10 2
26 10 2
27 10 1
28 10 1
29 10 2
0 11 2
1 11 1
2 11 1
3 11 1
5 11 6
6 11 3
7 11 3
8 11 2
9 11 4
10 11 3
11 11 5
12 11 1
13 11 3
14 11 3
15 11 2
16 11 3
17 11 1
18 11 1
20 11 2
21 11 2
22 11 2
23 11 5
24 11 2
25 11 2
26 11 2
27 11 1
29 11 1
30 11 1
31 11 1
1 12 1
2 12 1
3 12 1
5 12 6
6 12 4
7 12 3
8 12 3
9 12 2
10 12 2
11 12 1
12 12 4
13 12 2
14 12 4
15 12 3
16 12 4
17 12 2
18 12 2
20 12 3
23 12 4
24 12 5
25 12 5
26 12 3
27 12 2
29 12 2
30 12 1
1 13 1
2 13 1
3 13 1
4 13 1
6 13 3
7 13 2
8 13 4
9 13 6
10 13 3
11 13 6
12 13 2
13 13 5
14 13 3
15 13 2
16 13 2
17 13 2
18 13 2
20 13 3
22 13 3
23 13 3
24 13 5
25 13 5
26 13 3
27 13 2
28 13 2
29 13 2
0 14 1
3 14 5
4 14 2
5 14 2
6 14 3
7 14 4
8 14 3
9 14 2
10 14 6
11 14 2
12 14 1
13 14 2
14 14 1
15 14 1
16 14 3
17 14 2
18 14 1
20 14 3
22 14 3
23 14 5
24 14 5
25 14 5
26 14 4
27 14 5
28 14 6
29 14 3
30 14 2
33 14 1
0 15 2
1 15 2
4 15 3
5 15 3
6 15 2
7 15 4
8 15 5
9 15 6
10 15 6
11 15 3
12 15 7
13 15 3
14 15 7
15 15 2
16 15 3
17 15 2
18 15 2
20 15 2
21 15 3
22 15 4
24 15 2
25 15 6
26 15 7
27 15 3
28 15 2
29 15 2
30 15 3
33 15 1
34 15 1
0 16 3
1 16 3
2 16 7
3 16 2
4 16 5
5 16 3
6 16 5
7 16 3
8 16 5
9 16 2
10 16 3
11 16 2
12 16 1
13 16 2
14 16 2
15 16 4
16 16 3
17 16 1
18 16 3
19 16 5
20 16 3
21 16 2
22 16 4
23 16 7
24 16 7
25 16 4
26 16 3
27 16 7
28 16 7
29 16 4
30 16 4
31 16 1
34 16 2
0 17 3
1 17 1
2 17 2
3 17 2
4 17 4
5 17 3
6 17 4
7 17 3
8 17 4
9 17 3
10 17 2
11 17 5
12 17 4
13 17 1
15 17 4
16 17 2
17 17 2
19 17 4
20 17 4
21 17 3
22 17 3
23 17 7
24 17 6
25 17 7
26 17 7
27 17 5
28 17 3
29 17 5
30 17 2
31 17 2
32 17 2
34 17 1
0 18 2
1 18 1
2 18 1
4 18 2
5 18 2
6 18 5
7 18 4
8 18 5
9 18 5
10 18 5
11 18 3
12 18 2
13 18 2
14 18 4
15 18 2
16 18 2
17 18 3
19 18 7
20 18 3
21 18 4
22 18 2
24 18 7
25 18 5
26 18 6
27 18 6
28 18 3
29 18 5
31 18 2
32 18 2
33 18 1
0 19 1
1 19 1
2 19 1
3 19 3
4 19 2
5 19 3
6 19 5
7 19 6
8 19 4
9 19 5
10 19 3
12 19 1
13 19 2
15 19 3
17 19 2
18 19 5
20 19 5
21 19 6
22 19 6
23 19 3
24 19 5
25 19 3
26 19 3
27 19 6
28 19 1
29 19 2
30 19 3
32 19 3
33 19 1
3 20 5
4 20 1
5 20 2
6 20 3
7 20 5
8 20 5
9 20 4
10 20 4
11 20 3
12 20 5
13 20 2
14 20 6
15 20 2
16 20 3
18 20 1
19 20 2
20 20 4
21 20 3
23 20 3
24 20 6
25 20 7
26 20 6
27 20 6
28 20 3
29 20 5
30 20 2
32 20 2
34 20 1
1 21 1
4 21 2
6 21 3
7 21 2
8 21 3
9 21 3
10 21 5
11 21 2
12 21 5
13 21 2
14 21 2
15 21 2
16 21 2
18 21 2
20 21 7
21 21 7
22 21 2
23 21 6
24 21 7
25 21 5
26 21 7
27 21 7
28 21 4
29 21 4
30 21 2
32 21 1
7 22 2
8 22 1
9 22 2
10 22 2
11 22 1
12 22 2
13 22 2
14 22 3
15 22 2
16 22 2
17 22 1
19 22 5
20 22 6
21 22 7
22 22 5
23 22 4
24 22 7
25 22 7
26 22 1
27 22 7
28 22 7
29 22 4
30 22 2
32 22 2
33 22 2
34 22 1
2 23 3
3 23 2
6 23 2
13 23 1
15 23 1
17 23 1
18 23 1
19 23 1
20 23 3
21 23 2
22 23 7
23 23 5
24 23 4
25 23 4
26 23 7
27 23 7
28 23 4
29 23 4
30 23 3
32 23 2
33 23 2
37 23 1
5 24 2
6 24 2
8 24 2
9 24 2
14 24 2
17 24 1
20 24 2
21 24 5
22 24 3
23 24 1
24 24 1
25 24 3
26 24 7
27 24 2
28 24 5
29 24 3
31 24 1
32 24 1
33 24 1
6 25 1
8 25 1
9 25 1
12 25 1
13 25 1
19 25 1
21 25 2
22 25 2
24 25 6
25 25 3
26 25 5
27 25 5
28 25 5
8 26 1
12 26 2
13 26 1
14 26 1
16 26 1
17 26 1
19 26 2
20 26 2
22 26 3
23 26 5
24 26 3
25 26 5
26 26 2
27 26 2
28 26 2
29 26 2
31 26 1
5 27 1
6 27 1
10 27 1
19 27 1
24 27 1
25 27 1
26 27 2
27 27 2
28 27 1
29 27 5
30 27 1
31 27 1
22 28 1
23 28 1
24 28 1
25 28 1
26 28 1
27 28 1
33 28 1
25 29 1
28 29 2
33 29 1
22 30 2
25 30 1
27 30 1
28 30 1
31 30 1
33 30 1
30 31 1
31 31 1
33 31 1
26 32 1
28 32 1
30 32 1
26 33 1
27 33 1
}\tabGemmaFactCounter

\pgfplotstableread{
24 0 1
27 1 1
30 1 1
4 2 1
19 2 1
27 2 1
32 2 1
18 3 1
27 3 1
29 3 1
31 3 1
18 4 2
21 4 1
22 4 1
23 4 1
24 4 1
25 4 1
28 4 1
34 4 1
21 5 1
23 5 1
25 5 1
35 5 1
38 5 1
10 6 1
18 6 1
19 6 1
21 6 1
23 6 1
24 6 1
26 6 2
27 6 2
28 6 3
31 6 2
32 6 2
33 6 1
38 6 1
5 7 1
20 7 1
27 7 1
33 7 2
21 8 3
22 8 1
24 8 1
25 8 1
26 8 1
27 8 1
31 8 1
21 9 1
22 9 1
23 9 1
24 9 2
25 9 2
26 9 1
27 9 1
28 9 1
29 9 1
33 9 1
34 9 1
39 9 1
9 10 1
10 10 1
11 10 1
18 10 1
23 10 2
29 10 1
30 10 1
33 10 1
38 10 1
18 11 1
25 11 1
38 11 1
15 12 1
16 12 1
20 12 1
38 12 1
13 13 1
16 13 1
20 13 2
33 13 2
39 13 1
12 14 2
14 14 1
15 14 1
16 14 1
17 14 1
39 14 1
5 15 1
11 15 1
15 15 1
16 15 1
17 15 1
18 15 1
21 15 1
22 15 1
24 15 1
13 16 1
15 16 2
16 16 1
18 16 1
20 16 2
21 16 1
25 16 1
27 16 1
30 16 2
13 17 1
14 17 1
17 17 1
19 17 1
20 17 1
22 17 1
23 17 1
39 17 1
12 18 1
14 18 2
15 18 1
22 18 1
23 18 1
24 18 1
25 18 1
28 18 1
30 18 1
7 19 1
9 19 1
10 19 1
12 19 3
13 19 1
19 19 5
20 19 6
21 19 3
22 19 3
24 19 3
25 19 3
26 19 4
30 19 1
32 19 1
33 19 3
1 20 1
2 20 1
3 20 1
4 20 1
5 20 1
6 20 1
8 20 2
10 20 1
11 20 1
12 20 1
13 20 1
15 20 4
17 20 1
20 20 4
21 20 8
22 20 4
23 20 5
24 20 6
25 20 4
26 20 2
27 20 1
28 20 1
29 20 2
6 21 1
7 21 1
8 21 1
10 21 1
12 21 1
14 21 3
15 21 2
16 21 5
17 21 2
18 21 2
19 21 2
20 21 12
21 21 10
22 21 6
23 21 10
24 21 8
25 21 7
26 21 8
27 21 5
28 21 5
29 21 3
30 21 2
31 21 1
4 22 1
5 22 1
9 22 1
10 22 1
11 22 1
12 22 2
13 22 3
14 22 2
15 22 4
16 22 4
17 22 5
18 22 5
19 22 5
20 22 12
21 22 10
22 22 12
23 22 12
24 22 12
25 22 7
26 22 7
27 22 4
28 22 6
29 22 3
30 22 3
31 22 3
32 22 2
39 22 1
0 23 1
1 23 1
5 23 1
6 23 2
10 23 1
11 23 2
13 23 3
14 23 2
15 23 3
16 23 3
17 23 4
18 23 11
19 23 9
20 23 9
21 23 8
22 23 11
23 23 12
24 23 12
25 23 7
26 23 7
27 23 6
28 23 2
30 23 3
31 23 2
32 23 2
33 23 1
38 23 1
1 24 1
6 24 1
8 24 1
11 24 3
12 24 4
13 24 2
14 24 2
15 24 3
16 24 6
17 24 2
18 24 3
19 24 6
20 24 11
21 24 9
22 24 10
23 24 10
24 24 9
25 24 8
26 24 5
27 24 3
30 24 2
39 24 2
0 25 1
4 25 1
5 25 2
6 25 1
7 25 1
8 25 3
9 25 2
10 25 2
11 25 2
12 25 2
13 25 3
14 25 5
15 25 7
16 25 2
17 25 9
18 25 12
19 25 5
20 25 12
21 25 10
22 25 6
23 25 11
24 25 3
25 25 2
27 25 1
31 25 3
32 25 3
34 25 2
36 25 1
37 25 1
38 25 1
0 26 1
1 26 1
3 26 1
4 26 1
5 26 1
7 26 1
8 26 3
9 26 1
10 26 1
11 26 1
12 26 1
13 26 2
14 26 7
15 26 6
16 26 7
17 26 8
18 26 5
19 26 6
20 26 12
21 26 8
22 26 3
23 26 3
24 26 5
25 26 2
26 26 1
27 26 3
28 26 1
0 27 1
5 27 1
6 27 2
7 27 1
9 27 2
10 27 3
11 27 3
12 27 1
13 27 7
14 27 5
15 27 12
16 27 7
17 27 6
18 27 4
19 27 5
20 27 6
21 27 6
22 27 4
23 27 4
24 27 2
25 27 5
26 27 2
27 27 2
28 27 3
30 27 3
31 27 1
1 28 1
6 28 1
8 28 1
9 28 1
10 28 2
11 28 2
13 28 6
14 28 3
15 28 5
16 28 4
17 28 3
18 28 4
19 28 4
20 28 6
21 28 3
22 28 1
23 28 2
24 28 1
25 28 1
26 28 1
28 28 1
33 28 1
6 29 1
7 29 1
8 29 3
9 29 3
10 29 3
11 29 4
13 29 10
14 29 5
15 29 6
16 29 4
17 29 2
18 29 4
19 29 2
20 29 9
21 29 1
22 29 3
23 29 3
25 29 1
27 29 1
29 29 2
30 29 1
33 29 1
34 29 1
0 30 2
2 30 1
3 30 1
4 30 1
5 30 1
6 30 1
7 30 2
8 30 3
9 30 1
10 30 3
11 30 2
12 30 3
13 30 2
14 30 7
16 30 6
17 30 2
18 30 2
20 30 6
21 30 4
22 30 3
24 30 1
25 30 3
26 30 2
34 30 1
35 30 1
39 30 2
0 31 2
3 31 2
6 31 1
7 31 1
8 31 1
11 31 1
12 31 2
13 31 3
14 31 4
15 31 1
16 31 4
18 31 1
20 31 6
21 31 3
24 31 1
26 31 1
0 32 1
8 32 3
10 32 1
11 32 1
12 32 5
13 32 5
15 32 2
17 32 1
19 32 1
22 32 3
24 32 1
25 32 1
26 32 1
30 32 1
0 33 1
7 33 1
8 33 1
10 33 1
11 33 1
13 33 1
15 33 1
16 33 1
21 33 1
22 33 1
36 33 1
38 33 1
5 34 2
6 34 1
8 34 1
9 34 1
13 34 2
14 34 1
15 34 2
17 34 1
20 34 1
21 34 1
22 34 1
32 34 1
39 34 1
0 35 2
4 35 1
8 35 1
9 35 1
13 35 1
14 35 1
20 35 2
26 35 1
28 35 1
6 36 1
8 36 1
16 36 1
20 36 1
22 36 1
5 37 1
18 37 1
15 39 1
20 39 1
}\tabGemmaWinoBase

\pgfplotstableread{
12 0 1
14 3 1
11 4 2
13 4 1
15 4 1
16 4 1
18 4 1
10 5 1
11 5 1
14 5 1
19 5 1
21 5 1
7 6 1
12 6 1
15 6 1
17 6 1
20 6 1
12 7 1
13 7 1
15 7 1
16 7 2
20 7 1
0 8 1
9 8 1
13 8 1
20 8 1
23 8 1
9 9 1
11 9 1
12 9 1
13 9 1
17 9 1
18 9 2
4 10 1
14 10 1
15 10 1
16 10 1
20 10 3
11 11 1
20 11 1
24 11 1
25 11 1
27 11 1
5 12 1
13 12 1
15 12 1
21 12 1
25 12 2
26 12 1
27 12 1
29 12 1
3 13 1
6 13 1
9 13 1
13 13 1
18 13 2
23 13 1
25 13 1
26 13 1
28 13 1
35 13 1
11 14 1
15 14 2
16 14 1
17 14 1
22 14 1
23 14 2
24 14 2
26 14 1
29 14 1
32 14 1
33 14 1
1 15 1
6 15 1
16 15 1
22 15 1
23 15 2
24 15 1
26 15 1
28 15 1
32 15 1
33 15 1
34 15 1
5 16 1
14 16 1
16 16 1
18 16 2
19 16 1
20 16 1
23 16 2
24 16 1
26 16 1
29 16 1
32 16 1
34 16 1
38 16 1
5 17 1
6 17 1
8 17 1
13 17 2
15 17 1
18 17 1
19 17 1
20 17 1
21 17 1
22 17 1
23 17 1
24 17 1
26 17 1
27 17 1
30 17 1
32 17 2
38 17 2
0 18 2
5 18 2
7 18 1
8 18 2
9 18 2
11 18 1
13 18 2
14 18 1
15 18 2
16 18 2
17 18 2
18 18 3
19 18 2
20 18 4
21 18 1
22 18 1
23 18 1
24 18 1
25 18 2
26 18 2
27 18 1
31 18 1
5 19 1
6 19 1
9 19 1
12 19 1
13 19 1
14 19 2
15 19 1
16 19 2
17 19 2
18 19 2
19 19 2
20 19 3
21 19 1
22 19 1
23 19 1
24 19 1
25 19 1
28 19 1
30 19 1
6 20 2
7 20 1
8 20 1
10 20 1
11 20 2
12 20 2
13 20 2
14 20 2
15 20 2
16 20 3
17 20 5
18 20 2
19 20 2
20 20 3
21 20 3
22 20 3
23 20 1
24 20 2
25 20 2
26 20 1
29 20 1
31 20 1
34 20 1
39 20 2
0 21 1
6 21 3
9 21 2
10 21 2
11 21 3
12 21 2
13 21 3
14 21 4
15 21 6
16 21 7
17 21 5
18 21 9
19 21 4
20 21 6
21 21 5
22 21 4
24 21 1
25 21 2
26 21 2
31 21 2
33 21 1
5 22 2
7 22 3
8 22 5
10 22 3
11 22 3
12 22 2
13 22 2
14 22 3
15 22 9
16 22 10
17 22 10
18 22 3
19 22 3
20 22 10
21 22 6
22 22 6
24 22 1
25 22 2
26 22 2
29 22 1
32 22 1
0 23 2
1 23 1
6 23 2
7 23 1
8 23 3
9 23 4
10 23 2
11 23 3
12 23 4
13 23 5
14 23 9
15 23 3
16 23 6
17 23 6
18 23 8
19 23 10
20 23 10
21 23 3
22 23 2
24 23 2
25 23 2
27 23 1
29 23 2
33 23 4
32 23 1
0 24 2
3 24 1
5 24 1
6 24 2
7 24 2
8 24 3
9 24 1
10 24 10
11 24 2
12 24 5
13 24 7
14 24 8
15 24 3
16 24 10
17 24 10
18 24 6
19 24 6
20 24 10
21 24 6
22 24 4
23 24 9
24 24 5
25 24 3
26 24 3
27 24 3
29 24 1
0 25 1
2 25 1
3 25 1
4 25 1
5 25 1
7 25 1
8 25 1
9 25 2
10 25 2
11 25 3
12 25 6
13 25 8
14 25 7
15 25 6
16 25 6
17 25 5
18 25 6
20 25 10
21 25 10
22 25 10
23 25 9
24 25 9
25 25 8
26 25 8
27 25 2
28 25 1
31 25 2
32 25 2
36 25 1
4 26 1
5 26 1
6 26 1
7 26 2
8 26 1
10 26 2
11 26 2
12 26 2
13 26 2
14 26 9
15 26 6
16 26 7
17 26 5
18 26 5
19 26 6
20 26 10
21 26 9
22 26 5
23 26 9
24 26 10
25 26 6
26 26 6
27 26 6
28 26 2
30 26 2
31 26 2
39 26 1
38 26 1
5 27 1
7 27 2
8 27 1
9 27 1
10 27 1
11 27 1
12 27 1
13 27 1
14 27 1
15 27 3
16 27 3
17 27 3
18 27 3
19 27 3
20 27 5
21 27 10
22 27 8
23 27 5
24 27 8
25 27 10
26 27 1
27 27 2
30 27 4
31 27 5
32 27 2
1 28 1
3 28 1
7 28 1
9 28 1
10 28 1
11 28 1
12 28 3
13 28 3
14 28 3
15 28 2
16 28 2
17 28 2
18 28 2
19 28 2
20 28 4
21 28 2
22 28 3
23 28 5
24 28 2
25 28 3
26 28 3
27 28 2
30 28 2
31 28 1
37 28 1
38 28 1
0 29 1
1 29 2
2 29 1
5 29 1
6 29 1
8 29 2
10 29 1
11 29 1
13 29 1
15 29 3
16 29 2
17 29 2
18 29 2
19 29 2
20 29 2
22 29 6
23 29 8
24 29 9
25 29 4
26 29 3
30 29 1
31 29 1
34 29 3
0 30 1
3 30 1
5 30 1
6 30 2
7 30 1
8 30 2
9 30 1
10 30 1
11 30 1
12 30 1
13 30 2
14 30 2
17 30 3
19 30 2
20 30 5
21 30 2
22 30 5
23 30 9
24 30 3
25 30 3
26 30 2
28 30 4
30 30 1
31 30 1
32 30 1
8 31 2
12 31 1
16 31 1
17 31 1
18 31 2
19 31 3
20 31 6
21 31 3
22 31 3
23 31 3
24 31 4
25 31 2
26 31 1
27 31 1
28 31 2
30 31 1
31 31 1
35 31 1
37 31 1
39 31 2
10 32 1
13 32 1
15 32 1
20 32 2
21 32 2
22 32 1
24 32 1
29 32 1
32 32 1
39 32 2
19 33 1
20 33 1
21 33 1
23 33 2
24 33 1
25 33 1
26 33 2
28 33 1
29 33 1
30 33 1
19 34 1
21 34 1
22 34 1
24 34 1
25 34 1
26 34 1
27 34 1
28 34 1
29 34 1
33 34 1
34 34 1
38 34 1
19 35 1
21 35 1
22 35 1
24 35 1
25 35 1
31 35 1
22 36 1
28 36 1
39 36 1
18 37 1
33 37 1
}\tabGemmaWinoCounter

\begin{document}
\begin{tikzpicture}[x=1pt,y=1pt]
\path[use as bounding box] (0,0) rectangle (1310,605);

\begin{axis}[bp, ylabel style={yshift=14pt}, title={Base Logit}, at={(103.3pt,361pt)}, width=215pt, height=215pt, ymin=-4, ymax=48, ytick={0,10,20,30,40}, point meta max=9]
\bins{\tabLlamaFactBase}{48}{1.3}
\end{axis}
\begin{axis}[op, title={Counter Logit}, at={(351pt,361pt)}, width=215pt, height=215pt, ymin=-4, ymax=48, point meta max=9]
\bins{\tabLlamaFactCounter}{48}{1.3}
\end{axis}
\begin{axis}[cbar={height=215pt}, at={(576.3pt,361pt)}, point meta max=9]
\addplot[draw=none] coordinates {(0,0)};
\end{axis}

\begin{axis}[bp, ylabel style={yshift=12pt}, title={Base Logit}, at={(764pt,363pt)}, width=211.3pt, height=211pt, ymin=0.3, ymax=48.5, ytick={10,20,30,40}, point meta max=9]
\bins{\tabLlamaWinoBase}{48.5}{1.205}
\end{axis}
\begin{axis}[op, title={Counter Logit}, at={(1007.3pt,363pt)}, width=211.7pt, height=211pt, ymin=0.3, ymax=48.5, point meta max=9]
\bins{\tabLlamaWinoCounter}{48.5}{1.205}
\end{axis}
\begin{axis}[cbar={height=221pt}, at={(1229.3pt,358.3pt)}, point meta max=9]
\addplot[draw=none] coordinates {(0,0)};
\end{axis}

\begin{axis}[bp, xlabel={BDDiff}, at={(103.3pt,98pt)}, width=215pt, height=215pt, ymin=-32.5, ymax=72, ytick={-20,0,20,40,60}, point meta max=7]
\bins{\tabGemmaFactBase}{72}{2.6125}
\end{axis}
\begin{axis}[op, xlabel={BDDiff}, at={(351pt,98pt)}, width=215pt, height=215pt, ymin=-32.5, ymax=72, point meta max=7]
\bins{\tabGemmaFactCounter}{72}{2.6125}
\end{axis}
\begin{axis}[cbar={height=215pt}, at={(576.3pt,98pt)}, point meta max=7]
\addplot[draw=none] coordinates {(0,0)};
\end{axis}

\begin{axis}[bp, xlabel={BDDiff}, at={(764pt,97.5pt)}, width=211.3pt, height=212pt, ymin=-11.3, ymax=172.6, ytick={0,50,100,150}, point meta max=12]
\bins{\tabGemmaWinoBase}{172.6}{4.5975}
\end{axis}
\begin{axis}[op, xlabel={BDDiff}, at={(1007.3pt,97.5pt)}, width=211.7pt, height=212pt, ymin=-11.3, ymax=172.6, point meta max=12]
\bins{\tabGemmaWinoCounter}{172.6}{4.5975}
\end{axis}
\begin{axis}[cbar={height=221pt}, at={(1229.3pt,94pt)}, point meta max=12]
\addplot[draw=none] coordinates {(0,0)};
\end{axis}

\node[rotate=90, font=\fontsize{23.5}{25}\selectfont\bfseries] at (18pt,469pt) {Llama};
\node[rotate=90, font=\fontsize{23.5}{25}\selectfont\bfseries] at (18pt,207pt) {Gemma};
\node[rotate=90, font=\fontsize{23.5}{25}\selectfont\bfseries] at (680pt,469pt) {Llama};
\node[rotate=90, font=\fontsize{23.5}{25}\selectfont\bfseries] at (680pt,206pt) {Gemma};
\node[font=\fontsize{23.8}{25}\selectfont\capfont] at (323pt,15pt) {\textit{(a)} Factual Knowledge};
\node[font=\fontsize{23.8}{25}\selectfont\capfont] at (984pt,15pt) {\textit{(b)} Winograd Schema};
\end{tikzpicture}
\end{document}
